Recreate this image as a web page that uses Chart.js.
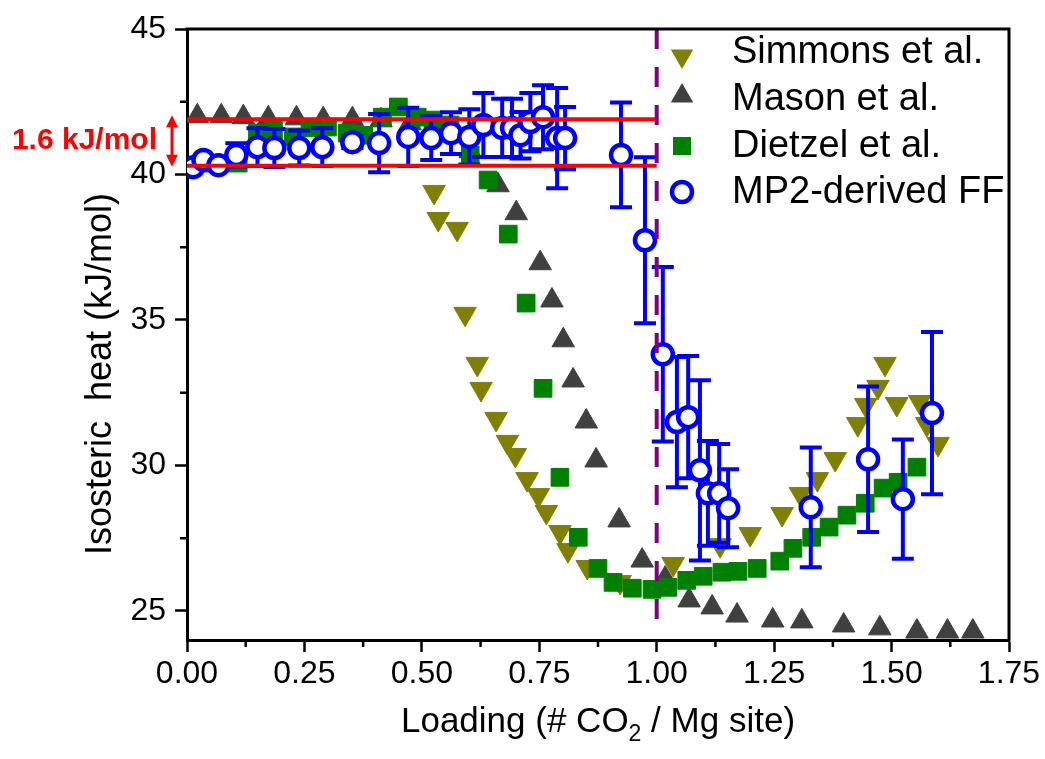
<!DOCTYPE html>
<html>
<head>
<meta charset="utf-8">
<script src="https://cdn.jsdelivr.net/npm/chart.js@4.4.1/dist/chart.umd.min.js"></script>
<style>
  html, body { margin: 0; padding: 0; background: #fff; }
  #wrap { width: 1045px; height: 759px; position: relative; }
</style>
</head>
<body>
<div id="wrap"><canvas id="heatChart"></canvas></div>
<script>
const FONT = '"Liberation Sans", Arial, sans-serif';

// axis ticks
const xTicks = [0, 0.25, 0.5, 0.75, 1.0, 1.25, 1.5, 1.75];
const xTickLabels = ['0.00', '0.25', '0.50', '0.75', '1.00', '1.25', '1.50', '1.75'];
const yTicks = [25, 30, 35, 40, 45];
const yTickLabels = ['25', '30', '35', '40', '45'];

// Simmons et al.
const simmonsX = [0.526, 0.535, 0.575, 0.592, 0.618, 0.626, 0.658, 0.682, 0.699, 0.724, 0.748, 0.765, 0.794, 0.811, 0.852, 0.922, 1.035, 1.135, 1.199, 1.267, 1.306, 1.342, 1.380, 1.428, 1.445, 1.471, 1.486, 1.511, 1.560, 1.575, 1.599];
const simmonsY = [39.40, 38.47, 38.13, 35.21, 33.49, 32.63, 31.60, 30.81, 30.36, 29.53, 28.98, 28.40, 27.71, 27.09, 26.51, 25.99, 26.61, 27.26, 27.64, 28.33, 29.02, 29.53, 30.22, 31.42, 32.08, 32.70, 33.49, 32.11, 32.18, 31.42, 30.74];

// Mason et al.
const masonX = [0.022, 0.073, 0.120, 0.173, 0.233, 0.290, 0.352, 0.413, 0.475, 0.539, 0.603, 0.662, 0.701, 0.752, 0.777, 0.801, 0.822, 0.850, 0.871, 0.920, 0.969, 1.018, 1.069, 1.118, 1.171, 1.247, 1.309, 1.398, 1.475, 1.554, 1.619, 1.673];
const masonY = [42.00, 42.00, 41.97, 41.93, 41.93, 41.90, 41.90, 41.86, 41.76, 41.52, 40.80, 39.63, 38.67, 36.95, 35.67, 34.30, 32.92, 31.51, 30.17, 28.11, 26.73, 26.11, 25.36, 25.12, 24.84, 24.67, 24.64, 24.50, 24.40, 24.29, 24.29, 24.29];

// Dietzel et al.
const dietzelX = [0.054, 0.109, 0.150, 0.184, 0.226, 0.262, 0.299, 0.341, 0.376, 0.416, 0.450, 0.490, 0.524, 0.560, 0.603, 0.641, 0.684, 0.722, 0.758, 0.794, 0.833, 0.875, 0.907, 0.948, 0.990, 1.024, 1.064, 1.099, 1.139, 1.173, 1.214, 1.262, 1.290, 1.330, 1.367, 1.405, 1.444, 1.482, 1.514, 1.554];
const dietzelY = [40.39, 40.39, 41.42, 41.53, 41.29, 41.60, 41.63, 41.42, 41.35, 41.97, 42.32, 41.97, 41.87, 41.70, 40.67, 39.81, 37.95, 35.58, 32.65, 29.59, 27.53, 26.46, 25.98, 25.78, 25.74, 25.81, 26.05, 26.19, 26.33, 26.36, 26.46, 26.71, 27.15, 27.53, 27.88, 28.29, 28.70, 29.22, 29.42, 29.94];

// MP2-derived FF, with error bar half-widths
const mp2X = [0.013, 0.035, 0.067, 0.105, 0.150, 0.186, 0.239, 0.288, 0.352, 0.409, 0.471, 0.520, 0.562, 0.601, 0.631, 0.671, 0.692, 0.710, 0.731, 0.758, 0.788, 0.805, 0.924, 0.975, 1.013, 1.043, 1.067, 1.092, 1.109, 1.133, 1.152, 1.328, 1.450, 1.524, 1.586];
const mp2Y = [40.25, 40.50, 40.32, 40.67, 40.94, 40.91, 40.91, 40.94, 41.11, 41.08, 41.29, 41.25, 41.42, 41.29, 41.70, 41.60, 41.60, 41.35, 41.80, 41.97, 41.25, 41.25, 40.67, 37.74, 33.82, 31.49, 31.66, 29.83, 29.04, 29.04, 28.53, 28.56, 30.21, 28.84, 31.80];
const mp2Err = [0, 0, 0, 0.4, 0.65, 0.65, 0.6, 0.65, 0.2, 1.0, 1.0, 0.75, 0.72, 0.95, 1.1, 1.0, 1.0, 0.8, 1.0, 1.1, 1.72, 1.07, 1.8, 2.85, 3.0, 2.24, 2.1, 3.1, 1.8, 1.7, 1.34, 2.06, 2.5, 2.05, 2.79];

// plateau band and saturation marker
const bandLevels = [41.9, 40.3];
const bandEndX = 1.0;
const bandLabel = '1.6 kJ/mol';
const saturationX = 1.0;

const pts = (xs, ys) => xs.map((x, i) => ({ x, y: ys[i] }));

function drawMarker(ctx, kind, x, y, color) {
    ctx.save();
    ctx.fillStyle = color;
    ctx.strokeStyle = color;
    ctx.beginPath();
    if (kind === 'up' || kind === 'down') {
        const r = 13, s = kind === 'up' ? 1 : -1;
        ctx.moveTo(x, y - s * r);
        ctx.lineTo(x + r * 0.866, y + s * r / 2);
        ctx.lineTo(x - r * 0.866, y + s * r / 2);
        ctx.closePath();
        ctx.fill();
    } else if (kind === 'square') {
        ctx.rect(x - 9, y - 9, 18, 18);
        ctx.fill();
    } else {
        ctx.lineWidth = 4.5;
        ctx.fillStyle = '#fff';
        ctx.arc(x, y, 10, 0, Math.PI * 2);
        ctx.fill();
        ctx.stroke();
    }
    ctx.restore();
}

const extras = {
    id: 'extras',
    beforeDatasetDraw(chart, args) {
        if (chart.data.datasets[args.index].label !== 'MP2-derived FF') return;
        const { ctx, scales: { x, y } } = chart;
        ctx.save();
        ctx.strokeStyle = '#0000ff';
        ctx.lineWidth = 4;
        mp2X.forEach((v, i) => {
            if (!mp2Err[i]) return;
            const px = x.getPixelForValue(v);
            const top = y.getPixelForValue(mp2Y[i] + mp2Err[i]);
            const bot = y.getPixelForValue(mp2Y[i] - mp2Err[i]);
            ctx.beginPath();
            ctx.moveTo(px, top); ctx.lineTo(px, bot);
            ctx.moveTo(px - 11, top); ctx.lineTo(px + 11, top);
            ctx.moveTo(px - 11, bot); ctx.lineTo(px + 11, bot);
            ctx.stroke();
        });
        ctx.restore();
    },
    afterDatasetsDraw(chart) {
        const { ctx, chartArea: a, scales: { x, y } } = chart;
        ctx.save();
        // red plateau lines
        ctx.strokeStyle = '#ff0000';
        ctx.lineWidth = 4;
        bandLevels.forEach(v => {
            const py = y.getPixelForValue(v);
            ctx.beginPath();
            ctx.moveTo(x.getPixelForValue(0), py);
            ctx.lineTo(x.getPixelForValue(bandEndX), py);
            ctx.stroke();
        });
        // purple dashed line at one CO2 per site
        ctx.strokeStyle = '#800080';
        ctx.setLineDash([20, 18]);
        const sx = x.getPixelForValue(saturationX);
        ctx.beginPath();
        ctx.moveTo(sx, a.top);
        ctx.lineTo(sx, a.bottom - 8);
        ctx.stroke();
        ctx.restore();
    },
    afterDraw(chart) {
        const { ctx, chartArea: a, scales: { x, y } } = chart;
        ctx.save();
        // frame top / right
        ctx.strokeStyle = '#000';
        ctx.lineWidth = 3;
        ctx.beginPath();
        ctx.moveTo(a.left - 1.5, a.top);
        ctx.lineTo(a.right, a.top);
        ctx.lineTo(a.right, a.bottom + 1.5);
        ctx.stroke();

        // minor ticks
        ctx.lineWidth = 2.5;
        ctx.beginPath();
        for (let i = 0; i < xTicks.length - 1; i++) {
            const px = x.getPixelForValue((xTicks[i] + xTicks[i + 1]) / 2);
            ctx.moveTo(px, a.bottom); ctx.lineTo(px, a.bottom + 7);
        }
        for (let i = 0; i < yTicks.length - 1; i++) {
            const py = y.getPixelForValue((yTicks[i] + yTicks[i + 1]) / 2);
            ctx.moveTo(a.left, py); ctx.lineTo(a.left - 7, py);
        }
        ctx.stroke();

        // x title with subscript
        ctx.fillStyle = '#000';
        ctx.textBaseline = 'alphabetic';
        ctx.textAlign = 'left';
        const big = '35px ' + FONT, small = '23px ' + FONT;
        const p1 = 'Loading (# CO', p2 = '2', p3 = ' / Mg site)';
        ctx.font = big;
        const w1 = ctx.measureText(p1).width, w3 = ctx.measureText(p3).width;
        ctx.font = small;
        const w2 = ctx.measureText(p2).width;
        let tx = (a.left + a.right) / 2 - (w1 + w2 + w3) / 2;
        const ty = 732;
        ctx.font = big; ctx.fillText(p1, tx, ty); tx += w1;
        ctx.font = small; ctx.fillText(p2, tx, ty + 9); tx += w2;
        ctx.font = big; ctx.fillText(p3, tx, ty);

        // y title
        ctx.save();
        ctx.translate(111, 374);
        ctx.rotate(-Math.PI / 2);
        ctx.textAlign = 'center';
        ctx.font = '36px ' + FONT;
        ctx.fillText('Isosteric  heat (kJ/mol)', 0, 0);
        ctx.restore();

        // band annotation
        ctx.fillStyle = '#ff0000';
        ctx.strokeStyle = '#ff0000';
        ctx.font = 'bold 30px ' + FONT;
        ctx.textAlign = 'right';
        ctx.fillText(bandLabel, 157, 149);
        const ax = 172, ay1 = y.getPixelForValue(bandLevels[0]) - 4, ay2 = y.getPixelForValue(bandLevels[1]) + 1;
        ctx.lineWidth = 3;
        ctx.beginPath();
        ctx.moveTo(ax, ay1 + 6); ctx.lineTo(ax, ay2 - 6);
        ctx.stroke();
        ctx.beginPath();
        ctx.moveTo(ax, ay1); ctx.lineTo(ax - 6, ay1 + 12); ctx.lineTo(ax + 6, ay1 + 12); ctx.closePath();
        ctx.moveTo(ax, ay2); ctx.lineTo(ax - 6, ay2 - 12); ctx.lineTo(ax + 6, ay2 - 12); ctx.closePath();
        ctx.fill();

        // legend
        const kinds = ['down', 'up', 'square', 'circle'];
        const markerY = [56, 96, 146, 192];
        const baseY = [63, 110, 157, 203];
        ctx.font = '38px ' + FONT;
        ctx.textAlign = 'left';
        ctx.fillStyle = '#000';
        chart.data.datasets.forEach((ds, i) => {
            drawMarker(ctx, kinds[i], 682, markerY[i], ds.borderColor);
            ctx.fillStyle = '#000';
            ctx.fillText(ds.label, 732, baseY[i]);
        });
        ctx.restore();
    }
};

const axisFont = { family: FONT, size: 32 };

new Chart(document.getElementById('heatChart'), {
    type: 'scatter',
    data: {
        datasets: [
            {
                label: 'Simmons et al.',
                data: pts(simmonsX, simmonsY),
                pointStyle: 'triangle',
                rotation: 180,
                pointRadius: 13,
                backgroundColor: '#808000',
                borderColor: '#808000',
                borderWidth: 1,
                order: 2
            },
            {
                label: 'Mason et al.',
                data: pts(masonX, masonY),
                pointStyle: 'triangle',
                pointRadius: 13,
                backgroundColor: '#404040',
                borderColor: '#404040',
                borderWidth: 1,
                order: 3
            },
            {
                label: 'Dietzel et al.',
                data: pts(dietzelX, dietzelY),
                pointStyle: 'rect',
                pointRadius: 12.5,
                backgroundColor: '#008000',
                borderColor: '#008000',
                borderWidth: 1,
                order: 1
            },
            {
                label: 'MP2-derived FF',
                data: pts(mp2X, mp2Y),
                pointStyle: 'circle',
                pointRadius: 10,
                backgroundColor: '#ffffff',
                borderColor: '#0000ff',
                borderWidth: 4.5,
                order: 0
            }
        ]
    },
    options: {
        responsive: true,
        maintainAspectRatio: false,
        animation: false,
        events: [],
        layout: { padding: { left: 0, right: 36, top: 29, bottom: 0 } },
        plugins: {
            legend: { display: false },
            tooltip: { enabled: false }
        },
        scales: {
            x: {
                type: 'linear',
                min: 0,
                max: 1.75,
                afterBuildTicks: s => { s.ticks = xTicks.map(v => ({ value: v })); },
                afterFit: s => { s.height = 119; },
                ticks: {
                    font: axisFont,
                    color: '#000',
                    padding: 3,
                    maxRotation: 0,
                    autoSkip: false,
                    callback: (v, i) => xTickLabels[i]
                },
                grid: {
                    drawOnChartArea: false,
                    tickLength: 12,
                    tickColor: '#000',
                    tickWidth: 2.5
                },
                border: { color: '#000', width: 3 }
            },
            y: {
                min: 24,
                max: 45,
                afterBuildTicks: s => { s.ticks = yTicks.map(v => ({ value: v })); },
                afterFit: s => { s.width = 187; },
                ticks: {
                    font: axisFont,
                    color: '#000',
                    padding: 9,
                    autoSkip: false,
                    callback: (v, i) => yTickLabels[i]
                },
                grid: {
                    drawOnChartArea: false,
                    tickLength: 12,
                    tickColor: '#000',
                    tickWidth: 2.5
                },
                border: { color: '#000', width: 3 }
            }
        }
    },
    plugins: [extras]
});
</script>
</body>
</html>
